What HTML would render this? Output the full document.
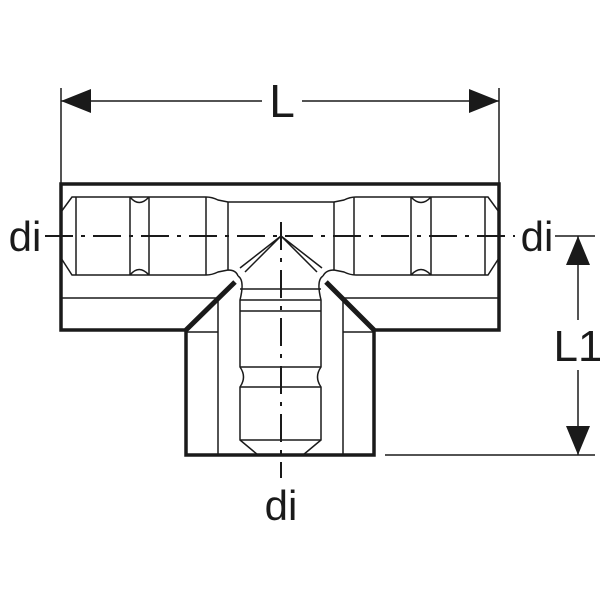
<!DOCTYPE html>
<html><head><style>body{margin:0;background:#fff}svg{display:block}</style></head><body>
<svg width="600" height="600" viewBox="0 0 600 600" xmlns="http://www.w3.org/2000/svg" font-family="Liberation Sans, sans-serif">
<g stroke="#1a1a1a" fill="none">
<path d="M61 184 H499 V330 H374 V455 H186 V330 H61 Z" stroke-width="3.5"/>
<line x1="186" y1="330" x2="235" y2="282" stroke-width="5"/>
<line x1="326" y1="282" x2="374" y2="330" stroke-width="5"/>
<g stroke-width="1.5">
<path d="M61 212 L72 197 H206 Q212 197 218 200 L228 202 H334 L344 200 Q350 197 356 197 H488 L499 212"/>
<path d="M61 258 L72 275 H206 Q212 275 218 272 L228 270 Q236 270 238 276"/>
<path d="M499 258 L488 275 H356 Q350 275 344 272 L334 270 Q326 270 323 276"/>
<line x1="76" y1="197" x2="76" y2="275"/><line x1="130" y1="197" x2="130" y2="275"/>
<line x1="149" y1="197" x2="149" y2="275"/><line x1="206" y1="197" x2="206" y2="275"/>
<line x1="228" y1="202" x2="228" y2="270"/>
<line x1="334" y1="202" x2="334" y2="270"/><line x1="354" y1="197" x2="354" y2="275"/>
<line x1="411" y1="197" x2="411" y2="275"/><line x1="431" y1="197" x2="431" y2="275"/>
<line x1="485" y1="197" x2="485" y2="275"/>
<path d="M130 197 Q139 208 149 197 M130 275 Q139 264 149 275 M411 197 Q421 208 431 197 M411 275 Q421 264 431 275"/>
<path d="M281 236 L245 272 M281 236 L240 268 M281 236 L317 272 M281 236 L322 268"/>
<line x1="61" y1="298" x2="218" y2="298"/><line x1="343" y1="298" x2="499" y2="298"/>
<line x1="218" y1="298" x2="218" y2="455"/><line x1="343" y1="298" x2="343" y2="455"/>
<line x1="186" y1="332" x2="218" y2="332"/><line x1="343" y1="332" x2="374" y2="332"/>
<path d="M238 276 Q245 280 240 300 V367 Q247 377 240 387 V440 L258 455"/>
<path d="M323 276 Q316 280 321 300 V367 Q314 377 321 387 V440 L303 455"/>
<line x1="240" y1="289" x2="321" y2="289"/><line x1="240" y1="300" x2="321" y2="300"/>
<line x1="240" y1="311" x2="321" y2="311"/><line x1="240" y1="367" x2="321" y2="367"/>
<line x1="240" y1="387" x2="321" y2="387"/><line x1="240" y1="440" x2="321" y2="440"/>
<line x1="61" y1="88" x2="61" y2="184"/><line x1="499" y1="88" x2="499" y2="184"/>
<line x1="61" y1="101" x2="262" y2="101"/><line x1="302" y1="101" x2="499" y2="101"/>
<line x1="555" y1="236" x2="595" y2="236"/><line x1="385" y1="455" x2="595" y2="455"/>
<line x1="578" y1="236" x2="578" y2="320"/><line x1="578" y1="370" x2="578" y2="455"/>
</g>
<g stroke-width="2">
<line x1="45" y1="236" x2="515" y2="236" stroke-dasharray="28 8 4 8"/>
<line x1="281" y1="222" x2="281" y2="478" stroke-dasharray="28 8 4 8"/>
</g>
</g>
<g fill="#1a1a1a">
<polygon points="61,101 91,89 91,113"/><polygon points="499,101 469,89 469,113"/>
<polygon points="578,236 566,265 590,265"/><polygon points="578,455 566,426 590,426"/>
<text x="282" y="117" font-size="46" text-anchor="middle">L</text>
<text x="578" y="361" font-size="44" text-anchor="middle">L1</text>
<text x="25" y="251" font-size="42" text-anchor="middle">di</text>
<text x="537" y="251" font-size="42" text-anchor="middle">di</text>
<text x="281" y="520" font-size="42" text-anchor="middle">di</text>
</g>
</svg>
</body></html>
